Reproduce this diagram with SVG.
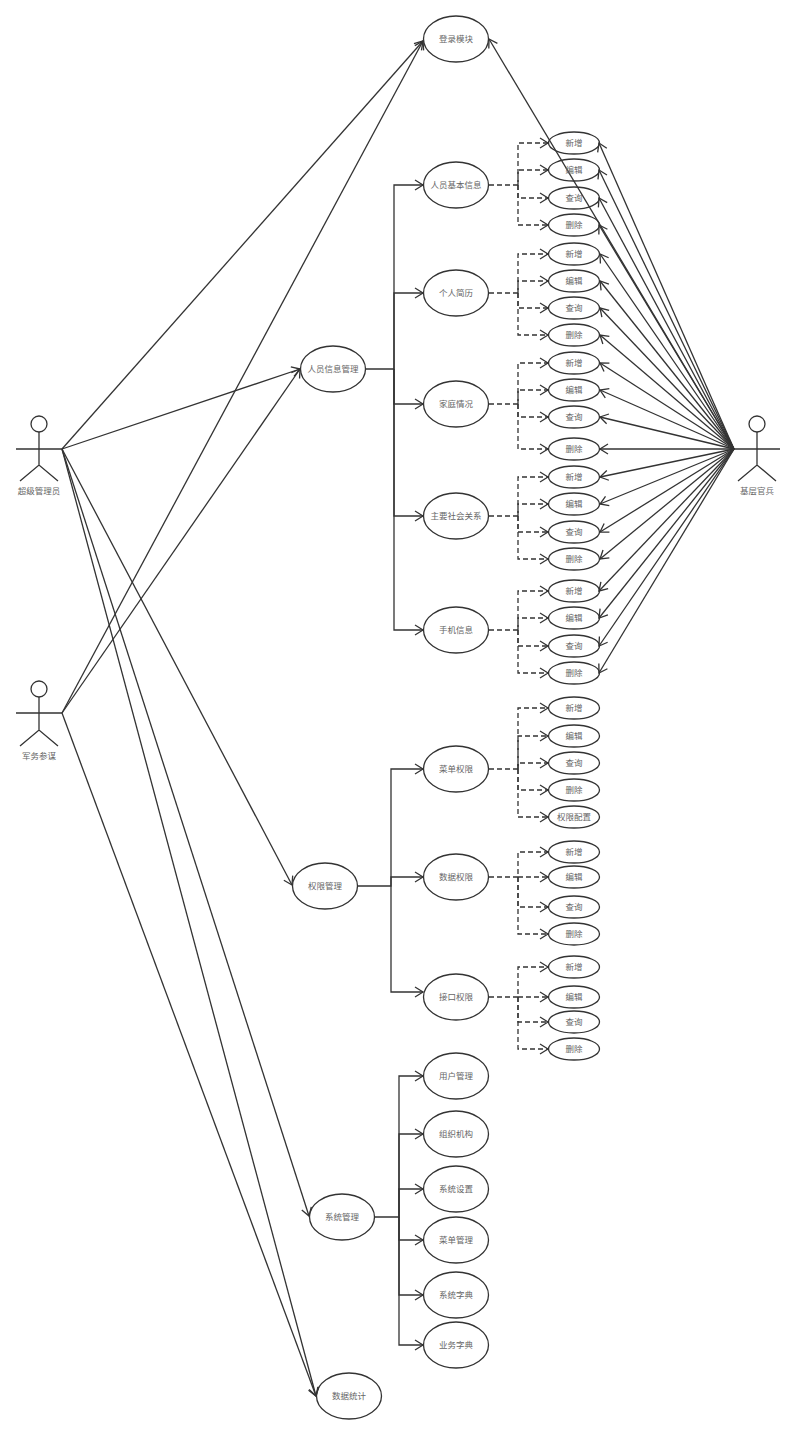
<svg xmlns="http://www.w3.org/2000/svg" width="796" height="1435" viewBox="0 0 796 1435">
<style>
text{font-family:"Noto Sans CJK SC","Liberation Sans",sans-serif;font-size:8.5px;fill:#666;text-anchor:middle;dominant-baseline:central;transform:translateY(-1px)}
ellipse,circle{fill:#fff;stroke:#333;stroke-width:1.3}
.a path,.a line{fill:none;stroke:#333;stroke-width:1.3}
.c line,.c path{fill:none;stroke:#333;stroke-width:1.3}
.e line,.e path{marker-end:url(#ar)}
.d line,.d path{stroke-dasharray:5 3}
.n ellipse{fill:none}
</style>
<defs><marker id="ar" markerUnits="userSpaceOnUse" markerWidth="14" markerHeight="14" refX="10" refY="7" orient="auto"><path d="M2 2L10 7L2 12" fill="none" stroke="#333" stroke-width="1.3" stroke-dasharray="none"/></marker></defs>
<g id="connectors" class="c">
<g class="e">
<line x1="62" y1="449" x2="423" y2="41"/><line x1="62" y1="449" x2="300" y2="369"/><line x1="62" y1="449" x2="292" y2="885"/><line x1="62" y1="449" x2="309" y2="1216"/><line x1="62" y1="449" x2="316" y2="1396"/>
<line x1="62" y1="713" x2="423" y2="41"/><line x1="62" y1="713" x2="300" y2="369"/><line x1="62" y1="713" x2="316" y2="1396"/>
<line x1="734" y1="449" x2="489" y2="39"/>
<line x1="734" y1="449" x2="599" y2="143"/><line x1="734" y1="449" x2="599" y2="170"/><line x1="734" y1="449" x2="599" y2="198"/><line x1="734" y1="449" x2="599" y2="225"/><line x1="734" y1="449" x2="600" y2="254"/><line x1="734" y1="449" x2="600" y2="281"/><line x1="734" y1="449" x2="600" y2="308"/><line x1="734" y1="449" x2="600" y2="335"/><line x1="734" y1="449" x2="600" y2="363"/><line x1="734" y1="449" x2="600" y2="390"/><line x1="734" y1="449" x2="600" y2="417"/><line x1="734" y1="449" x2="600" y2="449"/><line x1="734" y1="449" x2="600" y2="477"/><line x1="734" y1="449" x2="600" y2="504"/><line x1="734" y1="449" x2="600" y2="532"/><line x1="734" y1="449" x2="600" y2="559"/><line x1="734" y1="449" x2="599" y2="591"/><line x1="734" y1="449" x2="599" y2="618"/><line x1="734" y1="449" x2="599" y2="646"/><line x1="734" y1="449" x2="599" y2="673"/>
<path d="M366 369H394V185H423"/><path d="M394 369V293H423"/><path d="M394 369V404H423"/><path d="M394 369V516H423"/><path d="M394 369V630H423"/>
<path d="M358 886H391V769H423"/><path d="M391 886V877H423"/><path d="M391 886V992H423"/>
<path d="M375 1217H399V1076H423"/><path d="M399 1217V1134H423"/><path d="M399 1217V1189H423"/><path d="M399 1217V1240H423"/><path d="M399 1217V1295H423"/><path d="M399 1217V1345H423"/>
</g>
<g class="e d">
<path d="M489 185H518V143H548"/><path d="M518 185V170H548"/><path d="M518 185V198H548"/><path d="M518 185V225H548"/>
<path d="M489 293H518V254H548"/><path d="M518 293V281H548"/><path d="M518 293V308H548"/><path d="M518 293V335H548"/>
<path d="M489 404H518V363H548"/><path d="M518 404V390H548"/><path d="M518 404V417H548"/><path d="M518 404V449H548"/>
<path d="M489 516H518V477H548"/><path d="M518 516V504H548"/><path d="M518 516V532H548"/><path d="M518 516V559H548"/>
<path d="M489 630H518V591H548"/><path d="M518 630V618H548"/><path d="M518 630V646H548"/><path d="M518 630V673H548"/>
<path d="M489 769H518V708H548"/><path d="M518 769V736H548"/><path d="M518 769V763H548"/><path d="M518 769V790H548"/><path d="M518 769V817H548"/>
<path d="M489 877H518V852H548"/><path d="M518 877H548"/><path d="M518 877V907H548"/><path d="M518 877V934H548"/>
<path d="M489 997H518V967H548"/><path d="M518 997H548"/><path d="M518 997V1022H548"/><path d="M518 997V1049H548"/>
</g>
</g>
<g id="actor-super" class="a"><circle cx="39" cy="424" r="8"/><path d="M39 432V465M16 449H62M20 481L39 465L58 481"/><text x="39" y="491">超级管理员</text></g>
<g id="actor-staff" class="a"><circle cx="39" cy="689" r="8"/><path d="M39 697V730M16 713H62M20 746L39 730L58 746"/><text x="39" y="756">军务参谋</text></g>
<g id="actor-officer" class="a"><circle cx="757" cy="424" r="8"/><path d="M757 432V465M734 449H780M738 481L757 465L776 481"/><text x="757" y="491">基层官兵</text></g>
<g id="n-login" class="n"><ellipse cx="456" cy="39" rx="32.5" ry="23"/><text x="456" y="39">登录模块</text></g>
<g id="n-person" class="n"><ellipse cx="333" cy="369" rx="32.5" ry="23"/><text x="333" y="369">人员信息管理</text></g>
<g id="n-perm" class="n"><ellipse cx="325" cy="886" rx="32.5" ry="23"/><text x="325" y="886">权限管理</text></g>
<g id="n-sys" class="n"><ellipse cx="342" cy="1217" rx="32.5" ry="23"/><text x="342" y="1217">系统管理</text></g>
<g id="n-stat" class="n"><ellipse cx="349" cy="1396" rx="32.5" ry="23"/><text x="349" y="1396">数据统计</text></g>
<g id="n-basic" class="n"><ellipse cx="456" cy="185" rx="32.5" ry="23"/><text x="456" y="185">人员基本信息</text></g>
<g id="n-resume" class="n"><ellipse cx="456" cy="293" rx="32.5" ry="23"/><text x="456" y="293">个人简历</text></g>
<g id="n-family" class="n"><ellipse cx="456" cy="404" rx="32.5" ry="23"/><text x="456" y="404">家庭情况</text></g>
<g id="n-social" class="n"><ellipse cx="456" cy="516" rx="32.5" ry="23"/><text x="456" y="516">主要社会关系</text></g>
<g id="n-phone" class="n"><ellipse cx="456" cy="630" rx="32.5" ry="23"/><text x="456" y="630">手机信息</text></g>
<g id="n-menuperm" class="n"><ellipse cx="456" cy="769" rx="32.5" ry="23"/><text x="456" y="769">菜单权限</text></g>
<g id="n-dataperm" class="n"><ellipse cx="456" cy="877" rx="32.5" ry="23"/><text x="456" y="877">数据权限</text></g>
<g id="n-apiperm" class="n"><ellipse cx="456" cy="997" rx="32.5" ry="23"/><text x="456" y="997">接口权限</text></g>
<g id="n-user" class="n"><ellipse cx="456" cy="1076" rx="32.5" ry="23"/><text x="456" y="1076">用户管理</text></g>
<g id="n-org" class="n"><ellipse cx="456" cy="1134" rx="32.5" ry="23"/><text x="456" y="1134">组织机构</text></g>
<g id="n-setting" class="n"><ellipse cx="456" cy="1189" rx="32.5" ry="23"/><text x="456" y="1189">系统设置</text></g>
<g id="n-menu" class="n"><ellipse cx="456" cy="1240" rx="32.5" ry="23"/><text x="456" y="1240">菜单管理</text></g>
<g id="n-dict" class="n"><ellipse cx="456" cy="1295" rx="32.5" ry="23"/><text x="456" y="1295">系统字典</text></g>
<g id="n-biz" class="n"><ellipse cx="456" cy="1345" rx="32.5" ry="23"/><text x="456" y="1345">业务字典</text></g>
<g id="s1" class="n"><ellipse cx="574" cy="143" rx="25.5" ry="11"/><text x="574" y="143">新增</text></g>
<g id="s2" class="n"><ellipse cx="574" cy="170" rx="25.5" ry="11"/><text x="574" y="170">编辑</text></g>
<g id="s3" class="n"><ellipse cx="574" cy="198" rx="25.5" ry="11"/><text x="574" y="198">查询</text></g>
<g id="s4" class="n"><ellipse cx="574" cy="225" rx="25.5" ry="11"/><text x="574" y="225">删除</text></g>
<g id="s5" class="n"><ellipse cx="574" cy="254" rx="25.5" ry="11"/><text x="574" y="254">新增</text></g>
<g id="s6" class="n"><ellipse cx="574" cy="281" rx="25.5" ry="11"/><text x="574" y="281">编辑</text></g>
<g id="s7" class="n"><ellipse cx="574" cy="308" rx="25.5" ry="11"/><text x="574" y="308">查询</text></g>
<g id="s8" class="n"><ellipse cx="574" cy="335" rx="25.5" ry="11"/><text x="574" y="335">删除</text></g>
<g id="s9" class="n"><ellipse cx="574" cy="363" rx="25.5" ry="11"/><text x="574" y="363">新增</text></g>
<g id="s10" class="n"><ellipse cx="574" cy="390" rx="25.5" ry="11"/><text x="574" y="390">编辑</text></g>
<g id="s11" class="n"><ellipse cx="574" cy="417" rx="25.5" ry="11"/><text x="574" y="417">查询</text></g>
<g id="s12" class="n"><ellipse cx="574" cy="449" rx="25.5" ry="11"/><text x="574" y="449">删除</text></g>
<g id="s13" class="n"><ellipse cx="574" cy="477" rx="25.5" ry="11"/><text x="574" y="477">新增</text></g>
<g id="s14" class="n"><ellipse cx="574" cy="504" rx="25.5" ry="11"/><text x="574" y="504">编辑</text></g>
<g id="s15" class="n"><ellipse cx="574" cy="532" rx="25.5" ry="11"/><text x="574" y="532">查询</text></g>
<g id="s16" class="n"><ellipse cx="574" cy="559" rx="25.5" ry="11"/><text x="574" y="559">删除</text></g>
<g id="s17" class="n"><ellipse cx="574" cy="591" rx="25.5" ry="11"/><text x="574" y="591">新增</text></g>
<g id="s18" class="n"><ellipse cx="574" cy="618" rx="25.5" ry="11"/><text x="574" y="618">编辑</text></g>
<g id="s19" class="n"><ellipse cx="574" cy="646" rx="25.5" ry="11"/><text x="574" y="646">查询</text></g>
<g id="s20" class="n"><ellipse cx="574" cy="673" rx="25.5" ry="11"/><text x="574" y="673">删除</text></g>
<g id="s21" class="n"><ellipse cx="574" cy="708" rx="25.5" ry="11"/><text x="574" y="708">新增</text></g>
<g id="s22" class="n"><ellipse cx="574" cy="736" rx="25.5" ry="11"/><text x="574" y="736">编辑</text></g>
<g id="s23" class="n"><ellipse cx="574" cy="763" rx="25.5" ry="11"/><text x="574" y="763">查询</text></g>
<g id="s24" class="n"><ellipse cx="574" cy="790" rx="25.5" ry="11"/><text x="574" y="790">删除</text></g>
<g id="s25" class="n"><ellipse cx="574" cy="817" rx="25.5" ry="11"/><text x="574" y="817">权限配置</text></g>
<g id="s26" class="n"><ellipse cx="574" cy="852" rx="25.5" ry="11"/><text x="574" y="852">新增</text></g>
<g id="s27" class="n"><ellipse cx="574" cy="877" rx="25.5" ry="11"/><text x="574" y="877">编辑</text></g>
<g id="s28" class="n"><ellipse cx="574" cy="907" rx="25.5" ry="11"/><text x="574" y="907">查询</text></g>
<g id="s29" class="n"><ellipse cx="574" cy="934" rx="25.5" ry="11"/><text x="574" y="934">删除</text></g>
<g id="s30" class="n"><ellipse cx="574" cy="967" rx="25.5" ry="11"/><text x="574" y="967">新增</text></g>
<g id="s31" class="n"><ellipse cx="574" cy="997" rx="25.5" ry="11"/><text x="574" y="997">编辑</text></g>
<g id="s32" class="n"><ellipse cx="574" cy="1022" rx="25.5" ry="11"/><text x="574" y="1022">查询</text></g>
<g id="s33" class="n"><ellipse cx="574" cy="1049" rx="25.5" ry="11"/><text x="574" y="1049">删除</text></g>
</svg>
